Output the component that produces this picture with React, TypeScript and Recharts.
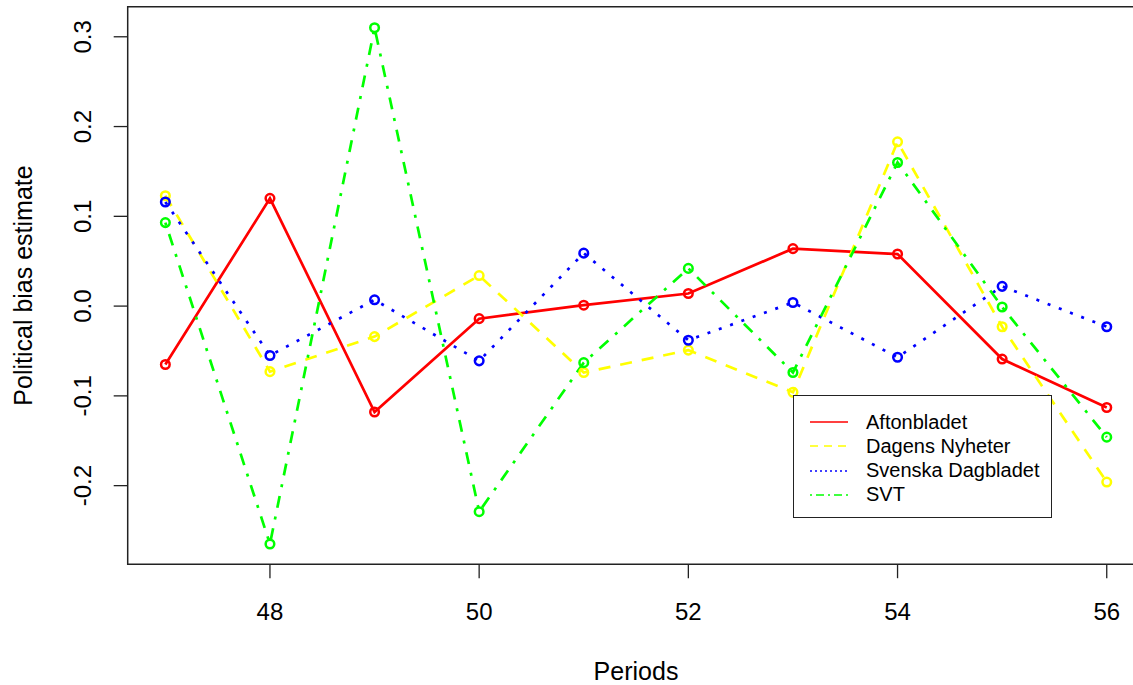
import React from "react";
import { LineChart, Line, XAxis, YAxis, ReferenceArea, Legend } from "recharts";

// periods on the x axis
const periods = [47, 48, 49, 50, 51, 52, 53, 54, 55, 56];

// bias estimates per outlet
const aftonbladet = [-0.065, 0.12, -0.118, -0.014, 0.001, 0.014, 0.064, 0.058, -0.059, -0.113];
const dagensNyheter = [0.123, -0.073, -0.034, 0.034, -0.074, -0.049, -0.096, 0.183, -0.023, -0.196];
const svenskaDagbladet = [0.116, -0.055, 0.007, -0.061, 0.059, -0.038, 0.004, -0.057, 0.022, -0.023];
const svt = [0.093, -0.265, 0.31, -0.229, -0.063, 0.042, -0.074, 0.16, -0.001, -0.146];

const xTicks = [48, 50, 52, 54, 56];
const yTicks = [-0.2, -0.1, 0, 0.1, 0.2, 0.3];

const seriesNames = ["Aftonbladet", "Dagens Nyheter", "Svenska Dagbladet", "SVT"];
const seriesValues = [aftonbladet, dagensNyheter, svenskaDagbladet, svt];

// styles (R base graphics look)
const colors = ["#FF0000", "#FFFF00", "#0000FF", "#00FF00"];
const plotDash = [undefined, "12 10", "3 9", "3 9 12 9"];
const legendDash = [undefined, "8 6", "2 3", "2 4 8 4"];

const FONT = '"Liberation Sans", Arial, sans-serif';

const data = periods.map((p, i) => {
  const row: Record<string, number> = { period: p };
  seriesNames.forEach((name, s) => {
    row[name] = seriesValues[s][i];
  });
  return row;
});

const XTick = (props: any) => (
  <text
    x={props.x}
    y={props.y + 33}
    textAnchor="middle"
    dominantBaseline="central"
    fontSize={24}
    fontFamily={FONT}
    fill="#000"
  >
    {props.payload.value}
  </text>
);

const YTick = (props: any) => {
  const cx = props.x - 31;
  const cy = props.y;
  return (
    <text
      x={cx}
      y={cy}
      transform={`rotate(-90, ${cx}, ${cy})`}
      textAnchor="middle"
      dominantBaseline="central"
      fontSize={24}
      fontFamily={FONT}
      fill="#000"
    >
      {Number(props.payload.value).toFixed(1)}
    </text>
  );
};

const makeDot = (color: string) => (props: any) => (
  <circle
    key={`${color}-${props.index}`}
    cx={props.cx}
    cy={props.cy}
    r={4.3}
    fill="none"
    stroke={color}
    strokeWidth={2.5}
  />
);

const LegendBox = () => (
  <div
    style={{
      position: "relative",
      width: 259,
      height: 123,
      boxSizing: "border-box",
      border: "1.5px solid #222",
      background: "#fff",
      fontFamily: FONT,
      fontSize: 20,
      color: "#000",
    }}
  >
    {seriesNames.map((name, i) => (
      <div
        key={name}
        style={{
          position: "absolute",
          left: 0,
          top: 13 + i * 24.3,
          height: 26,
          display: "flex",
          alignItems: "center",
          whiteSpace: "nowrap",
        }}
      >
        <svg width={72} height={26} style={{ display: "block" }}>
          <line
            x1={16}
            x2={54}
            y1={13}
            y2={13}
            stroke={colors[i]}
            strokeWidth={1.3}
            strokeDasharray={legendDash[i]}
          />
        </svg>
        <span>{name}</span>
      </div>
    ))}
  </div>
);

export default function App() {
  return (
    <div
      style={{
        position: "fixed",
        left: 0,
        top: 0,
        width: 1133,
        height: 685,
        overflow: "hidden",
        background: "#fff",
      }}
    >
      <LineChart
        width={1145}
        height={685}
        data={data}
        margin={{ top: 6.7, right: 0.6, left: 0, bottom: 0 }}
      >
        <XAxis
          dataKey="period"
          type="number"
          domain={[46.64, 56.36]}
          ticks={xTicks}
          allowDataOverflow
          height={120.8}
          axisLine={false}
          tickLine={{ stroke: "#222", strokeWidth: 1.3 }}
          tickSize={14}
          tickMargin={0}
          tick={XTick}
          label={() => (
            <text
              x={636}
              y={671}
              textAnchor="middle"
              dominantBaseline="central"
              fontSize={25}
              fontFamily={FONT}
              fill="#000"
            >
              Periods
            </text>
          )}
        />
        <YAxis
          type="number"
          domain={[-0.2875, 0.3335]}
          ticks={yTicks}
          allowDataOverflow
          width={127.7}
          axisLine={false}
          tickLine={{ stroke: "#222", strokeWidth: 1.3 }}
          tickSize={14}
          tickMargin={0}
          tick={YTick}
          label={() => (
            <text
              x={23}
              y={285.5}
              transform="rotate(-90, 23, 285.5)"
              textAnchor="middle"
              dominantBaseline="central"
              fontSize={25}
              fontFamily={FONT}
              fill="#000"
            >
              Political bias estimate
            </text>
          )}
        />
        <ReferenceArea
          x1={46.64}
          x2={56.36}
          y1={-0.2875}
          y2={0.3335}
          fill="none"
          fillOpacity={0}
          stroke="#222"
          strokeWidth={1.5}
        />
        {seriesNames.map((name, i) => (
          <Line
            key={name}
            type="linear"
            dataKey={name}
            name={name}
            stroke={colors[i]}
            strokeWidth={2.7}
            strokeDasharray={plotDash[i]}
            dot={makeDot(colors[i])}
            activeDot={false}
            isAnimationActive={false}
          />
        ))}
        <Legend
          layout="horizontal"
          verticalAlign="middle"
          align="center"
          content={LegendBox}
          wrapperStyle={{ left: 793, top: 395, width: 259, height: 123 }}
        />
      </LineChart>
    </div>
  );
}
